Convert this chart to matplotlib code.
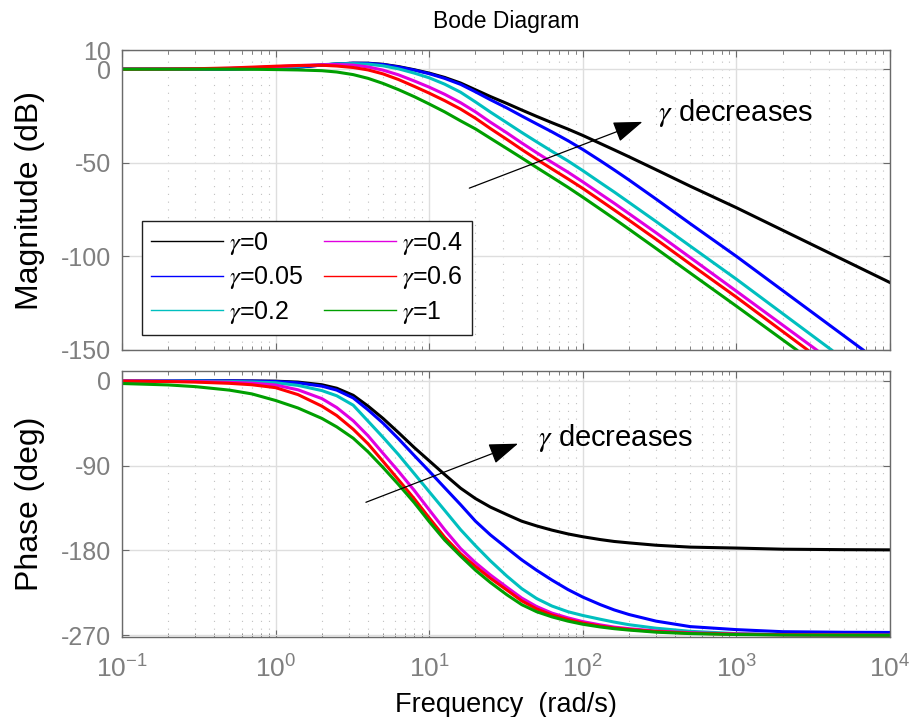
import matplotlib

matplotlib.use("Agg")
import matplotlib.pyplot as plt
from matplotlib.lines import Line2D
from matplotlib.font_manager import FontProperties
from matplotlib.ticker import LogLocator, NullFormatter, FixedLocator, FixedFormatter

plt.rcParams["font.family"] = ["Liberation Sans", "DejaVu Sans"]
plt.rcParams["axes.unicode_minus"] = False

# ---- data ----
gamma_labels = ["0", "0.05", "0.2", "0.4", "0.6", "1"]
colors = ["#000000", "#0000ff", "#00bfbf", "#e000e0", "#ff0000", "#009f00"]

# magnitude (dB)
mag_freq = [0.1, 0.2, 0.3, 0.5, 0.7, 1, 1.4, 2, 2.5, 3.2, 4, 5, 6.3, 8, 10, 12.6, 16,
            20, 25, 32, 40, 50, 63, 80, 100, 130, 160, 200, 300, 500, 1000]
mag_g0 = [0, 0, 0.05, 0.15, 0.3, 0.55, 1.1, 2.2, 2.8, 3.2, 3.2, 2.6, 1.4, -0.3, -2.1,
          -4.4, -7.4, -11.0, -14.6, -18.3, -21.8, -25.2, -28.6, -32.0, -35.4, -39.7,
          -43.1, -46.8, -53.7, -62.5, -74.0]
mag_g005 = [0, 0, 0.05, 0.15, 0.3, 0.55, 1.1, 2.2, 2.8, 3.2, 3.1, 2.5, 1.2, -0.5, -2.4,
            -4.9, -8.1, -12.1, -16.3, -20.7, -25.0, -29.2, -33.5, -38.2, -42.9, -48.9,
            -53.8, -59.2, -69.4, -82.5, -100.0]
mag_g02 = [0, 0.02, 0.08, 0.25, 0.5, 0.9, 1.5, 2.4, 2.8, 3.0, 2.7, 1.8, 0.2, -2.1, -4.6,
           -8.0, -12.3, -17.5, -22.9, -28.6, -33.8, -38.8, -43.9, -49.0, -54.2, -60.6,
           -65.6, -71.2, -81.4, -94.5, -112.2]
mag_g04 = [0, 0.05, 0.15, 0.45, 0.8, 1.3, 1.9, 2.4, 2.5, 2.2, 1.2, -0.5, -3.0, -6.3, -9.6,
           -13.4, -17.9, -22.8, -28.3, -34.0, -39.4, -44.6, -49.8, -55.0, -60.2, -66.6,
           -71.6, -77.2, -87.4, -100.6, -118.6]
mag_g06 = [0, 0.1, 0.25, 0.65, 1.1, 1.6, 2.0, 2.1, 1.7, 0.9, -0.4, -2.5, -5.5, -9.2, -12.8,
           -16.8, -21.3, -26.2, -31.7, -37.5, -42.9, -48.1, -53.3, -58.6, -63.7, -70.1,
           -75.2, -80.7, -90.9, -104.1, -121.8]
mag_g1 = [0, 0, 0, 0, -0.05, -0.2, -0.4, -0.8, -1.5, -2.9, -4.9, -7.6, -10.9, -14.7, -18.6,
          -22.8, -27.6, -31.9, -36.9, -42.4, -47.4, -52.5, -57.7, -63.1, -68.4, -74.8,
          -79.9, -85.5, -95.8, -108.9, -126.6]
# last visible point of each magnitude curve
mag_end_freq = [10000, 6680, 4160, 3326, 2905, 2466]
mag_end_db = [-114, -150, -150, -150, -150, -150]

# phase (deg)
ph_freq = [0.1, 0.2, 0.3, 0.5, 0.7, 1, 1.4, 2, 2.5, 3.2, 4, 5, 6.3, 8, 10, 12.6, 16,
           20, 25, 32, 40, 50, 63, 80, 100, 130, 160, 200, 300, 500, 1000, 2000, 5000, 10000]
ph_g0 = [0, 0, -0.1, -0.2, -0.3, -0.5, -1.5, -4.3, -8, -15.5, -27, -40, -55, -71, -85,
         -99.5, -114, -125, -134, -142, -149, -154, -158.5, -162.5, -165.5, -168.5,
         -170.5, -172, -174.5, -176.5, -177.5, -178.7, -179.2, -179.4]
ph_g005 = [0, 0, -0.1, -0.2, -0.4, -0.8, -2.3, -5.8, -10, -18.3, -31, -45, -61.5, -79.5,
           -96, -113.5, -131.5, -149, -163.5, -177.5, -190, -201, -211.5, -221.5, -229.5,
           -237.5, -243.1, -248, -255, -260.8, -264, -266.2, -266.8, -267]
ph_g02 = [-0.1, -0.2, -0.4, -0.8, -1.3, -2.2, -5, -10.5, -16, -26, -43, -60, -78.3, -98.7,
          -117.8, -137.5, -158, -175, -191, -207.2, -220.5, -231, -239, -245, -249, -253,
          -256, -258.8, -262.5, -265.8, -268.2, -269.2, -269.7, -269.9]
ph_g04 = [-0.2, -0.5, -0.9, -1.7, -2.6, -4.6, -9.7, -19, -28.5, -42.5, -58.5, -77, -96,
          -116.5, -137, -158, -178, -193, -206, -219, -230.5, -239.5, -246.5, -251.5,
          -255.5, -259, -261.3, -263, -265.5, -267.3, -268.6, -269.3, -269.7, -269.9]
ph_g06 = [-0.4, -0.9, -1.5, -2.8, -4.3, -7.4, -14.8, -27, -37, -51.5, -67, -85.5, -105,
          -125.3, -145.5, -166, -183.5, -197, -209.5, -222, -233.5, -242, -248.5, -253.3,
          -257, -260.3, -262.3, -263.8, -266, -267.8, -268.9, -269.5, -269.8, -270]
ph_g1 = [-3, -4.5, -6.3, -10, -14, -21, -29, -40, -49, -61, -75.5, -92, -110, -129.5,
         -149.5, -169, -186, -201, -214, -227, -237.5, -245, -250.5, -255, -258.3, -261.2,
         -263, -264.5, -266.7, -268.2, -269.2, -269.7, -269.9, -270]

mag_curves = [mag_g0, mag_g005, mag_g02, mag_g04, mag_g06, mag_g1]
ph_curves = [ph_g0, ph_g005, ph_g02, ph_g04, ph_g06, ph_g1]

tick_gray = "#7f7f7f"
spine_gray = "#6a6a6a"

fig = plt.figure(figsize=(9.14, 7.17), dpi=100)
ax1 = fig.add_axes([0.1335, 0.5119, 0.8403, 0.4177])
ax2 = fig.add_axes([0.1335, 0.1116, 0.8403, 0.3710])


def style_axis(ax):
    ax.set_xscale("log")
    ax.set_xlim(0.1, 1e4)
    ax.xaxis.set_major_locator(LogLocator(base=10, numticks=10))
    ax.xaxis.set_minor_locator(LogLocator(base=10, subs=range(2, 10), numticks=100))
    ax.xaxis.set_minor_formatter(NullFormatter())
    ax.grid(True, which="major", color="#dedede", lw=1.0, ls="-")
    ax.grid(True, which="minor", axis="x", color="#c0c0c0", lw=0.8, ls=(0, (1, 6)))
    ax.set_axisbelow(True)
    for s in ax.spines.values():
        s.set_color(spine_gray)
        s.set_linewidth(1.0)
    ax.tick_params(which="both", direction="in", top=True, right=True,
                   colors=spine_gray, labelcolor=tick_gray)
    ax.tick_params(axis="y", labelsize=18, pad=8)
    ax.tick_params(axis="x", labelsize=19)
    ax.tick_params(which="major", length=5)
    ax.tick_params(which="minor", length=3)


# magnitude panel
for i in range(len(gamma_labels)):
    ax1.plot(mag_freq + [mag_end_freq[i]], mag_curves[i] + [mag_end_db[i]],
             color=colors[i], lw=2.2)
style_axis(ax1)
ax1.set_ylim(-150, 10)
ax1.yaxis.set_major_locator(FixedLocator([-150, -100, -50, 0, 10]))
ax1.yaxis.set_major_formatter(FixedFormatter(["-150", "-100", "-50", "0", "10"]))
ax1.xaxis.set_major_formatter(NullFormatter())
ax1.set_title("Bode Diagram", fontsize=16.5, pad=16)
ax1.set_ylabel("Magnitude (dB)", fontsize=23)
ax1.yaxis.set_label_coords(-0.1, 0.5)

handles = [Line2D([], [], color=c, lw=1.0) for c in colors]
labels = [r"$\gamma$=" + g for g in gamma_labels]
leg = ax1.legend(handles, labels, ncol=2, loc="lower left",
                 bbox_to_anchor=(0.0257, 0.051), borderaxespad=0.0,
                 frameon=True, fancybox=False,
                 edgecolor="#202020", framealpha=1.0, handlelength=2.9,
                 handletextpad=0.25, columnspacing=0.8, labelspacing=0.3,
                 borderpad=0.35,
                 prop=FontProperties(family="Liberation Sans", size=18,
                                     math_fontfamily="stix"))
leg.get_frame().set_linewidth(1.0)

arrow = dict(arrowstyle="-|>,head_length=0.7,head_width=0.25",
             mutation_scale=26, lw=0.9, color="k")
ax1.annotate("", xy=(0.681, 0.765), xytext=(0.4488, 0.537), xycoords="axes fraction",
             arrowprops=arrow)
ax1.text(0.698, 0.79, r"$\gamma$ decreases", transform=ax1.transAxes, fontsize=21,
         va="center", ha="left", math_fontfamily="stix")

# phase panel
for i in range(len(gamma_labels)):
    ax2.plot(ph_freq, ph_curves[i], color=colors[i], lw=2.2)
style_axis(ax2)
ax2.set_ylim(-271.8, 10.3)
ax2.yaxis.set_major_locator(FixedLocator([-270, -180, -90, 0]))
ax2.yaxis.set_major_formatter(FixedFormatter(["-270", "-180", "-90", "0"]))
ax2.set_ylabel("Phase (deg)", fontsize=23)
ax2.yaxis.set_label_coords(-0.1, 0.5)
ax2.set_xlabel("Frequency  (rad/s)", fontsize=19.5, labelpad=7)
ax2.tick_params(axis="x", which="major", pad=13)

ax2.annotate("", xy=(0.519, 0.7305), xytext=(0.3142, 0.5026), xycoords="axes fraction",
             arrowprops=arrow)
ax2.text(0.542, 0.747, r"$\gamma$ decreases", transform=ax2.transAxes, fontsize=21,
         va="center", ha="left", math_fontfamily="stix")

fig.savefig("out.png", dpi=100)
